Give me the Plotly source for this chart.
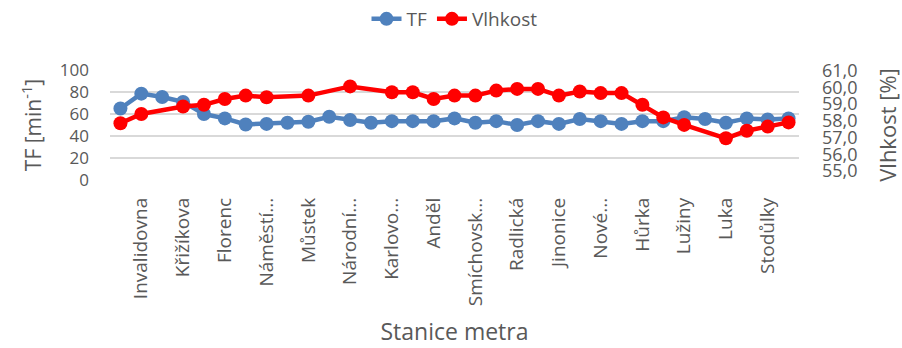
import plotly.graph_objects as go

# Measurement points along metro line B (labelled stations, unlabeled points between them)
categories = ["", "Invalidovna", "", "Křižíkova", "", "Florenc", "", "Náměstí...", "",
              "Můstek", "", "Národní...", "", "Karlovo...", "", "Anděl", "",
              "Smíchovsk...", "", "Radlická", "", "Jinonice", "", "Nové...", "",
              "Hůrka", "", "Lužiny", "", "Luka", "", "Stodůlky", ""]

# Heart rate TF [min^-1]
tf = [65, 78.5, 75.5, 71, 60, 56, 50.5, 51, 52, 53, 57.5, 54.5, 52, 53.5, 53.5, 53.5,
      56, 52, 53.5, 50, 53.5, 51, 55.5, 53.5, 51, 53.5, 53.5, 57, 55.5, 52, 56, 55, 56]

# Relative humidity [%] (None = not measured)
vlhkost = [57.85, 58.4, None, 58.85, 58.95, 59.3, 59.5, 59.4, None, 59.5, None, 60.05,
           None, 59.7, 59.7, 59.3, 59.5, 59.5, 59.8, 59.9, 59.9, 59.5, 59.75, 59.65,
           59.65, 58.95, 58.2, 57.75, None, 56.95, 57.4, 57.65, 57.9]

tf_ticks = [0, 20, 40, 60, 80, 100]
vlhkost_ticks = [55, 56, 57, 58, 59, 60, 61]

x = list(range(len(categories)))
tickvals = [i for i, c in enumerate(categories) if c]
ticktext = [c for c in categories if c]

GREY = "#595959"
FONT = "Open Sans"

fig = go.Figure()
fig.add_trace(go.Scatter(
    x=x, y=tf, name="TF", mode="lines+markers",
    line=dict(color="#4F81BD", width=4.5),
    marker=dict(color="#4F81BD", size=14),
    yaxis="y",
))
fig.add_trace(go.Scatter(
    x=x, y=vlhkost, name="Vlhkost", mode="lines+markers", connectgaps=True,
    line=dict(color="#FF0000", width=4.5),
    marker=dict(color="#FF0000", size=14),
    yaxis="y2",
))

fig.update_layout(
    width=902, height=348, autosize=False,
    margin=dict(l=110, r=103, t=70, b=168, pad=0),
    paper_bgcolor="white", plot_bgcolor="white",
    separators=", ",
    font=dict(family=FONT, color=GREY, size=16),
    showlegend=True,
    legend=dict(orientation="h", x=0.5, xanchor="center", yref="container",
                y=1.0, yanchor="top", font=dict(size=19, color=GREY),
                itemwidth=30, tracegroupgap=0),
    xaxis=dict(
        range=[-0.5, len(categories) - 0.5], automargin=False,
        tickmode="array", tickvals=tickvals, ticktext=ticktext,
        tickangle=-90, tickfont=dict(size=19, color=GREY),
        ticks="", showgrid=False, zeroline=False, showline=False,
        ticklabelstandoff=13,
        title=dict(text="Stanice metra", font=dict(size=23, color=GREY), standoff=18),
    ),
    yaxis=dict(
        range=[0, 100], tickvals=tf_ticks, automargin=False,
        tickfont=dict(size=17, color=GREY),
        showgrid=True, gridcolor="#D9D9D9", gridwidth=1.5,
        zeroline=False, showline=False, ticks="",
        ticklabelstandoff=20,
        title=dict(text="TF [min<sup>-1</sup>]", font=dict(size=21, color=GREY), standoff=12),
    ),
    yaxis2=dict(
        range=[54.46, 61.03], tickvals=vlhkost_ticks, tickformat=".1f", automargin=False,
        overlaying="y", side="right",
        tickfont=dict(size=18, color=GREY),
        showgrid=False, zeroline=False, showline=False, ticks="",
        ticklabelstandoff=22,
        title=dict(text="Vlhkost [%]", font=dict(size=22, color=GREY), standoff=25),
    ),
)

fig.write_html("out.html")
